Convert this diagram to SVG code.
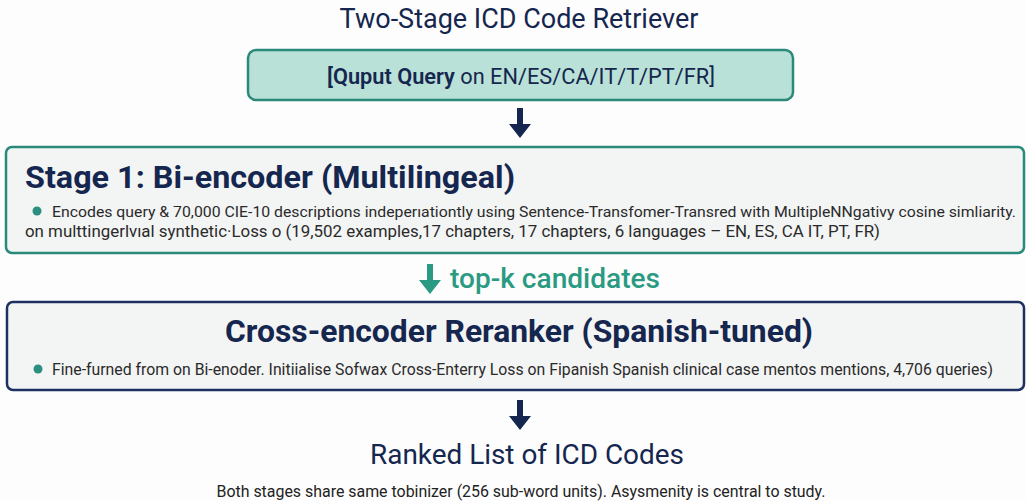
<svg xmlns="http://www.w3.org/2000/svg" width="1026" height="501" viewBox="0 0 1026 501">
<style>
text{font-family:Roboto,"Liberation Sans",sans-serif}
.navy{fill:#15264f}
.body{fill:#2a2a2a;font-size:16px}
.h{font-weight:700;font-size:32px;fill:#15264f}
.dot{fill:#2a8f7e}
</style>
<defs>
<path id="arr" d="M-3,0 H3 V16 H11 L0,30 L-11,16 H-3 Z"/>
</defs>
<rect width="1026" height="501" fill="#fdfdfd"/>
<g id="title"><text x="519" y="28" text-anchor="middle" font-size="27" class="navy">Two-Stage ICD Code Retriever</text></g>
<g id="input">
<rect x="248" y="50" width="545" height="50" rx="8" fill="#b9e1d7" stroke="#2a8a7a" stroke-width="2.5"/>
<text x="521" y="84" text-anchor="middle" font-size="21.7" class="navy" textLength="388" lengthAdjust="spacingAndGlyphs"><tspan font-weight="600">[Quput Query</tspan> on EN/ES/CA/IT/T/PT/FR]</text>
</g>
<g id="stage1">
<rect x="6" y="147" width="1018" height="106" rx="6" fill="#f3f4f4" stroke="#2a8a7a" stroke-width="2.5"/>
<text x="25" y="188" class="h" textLength="490" lengthAdjust="spacingAndGlyphs">Stage 1: Bi-encoder (Multilingeal)</text>
<circle cx="37" cy="211" r="4.5" class="dot"/>
<text x="52" y="217" class="body" font-size="15.2" style="font-size:15.2px" textLength="964" lengthAdjust="spacingAndGlyphs">Encodes query &amp; 70,000 CIE-10 descriptions indeperıationtly using Sentence-Transfomer-Transred with MultipleNNgativy cosine simliarity.</text>
<text x="25" y="237" class="body" textLength="855" lengthAdjust="spacingAndGlyphs">on multtingerlvıal synthetic·Loss o (19,502 examples,17 chapters, 17 chapters, 6 languages – EN, ES, CA IT, PT, FR)</text>
</g>
<g id="stage2">
<rect x="7" y="302" width="1017" height="88" rx="6" fill="#f3f4f4" stroke="#1d3160" stroke-width="2.5"/>
<text x="519" y="342" text-anchor="middle" class="h" textLength="588" lengthAdjust="spacingAndGlyphs">Cross-encoder Reranker (Spanish-tuned)</text>
<circle cx="38" cy="369" r="4.5" class="dot"/>
<text x="52" y="375" class="body" textLength="941" lengthAdjust="spacingAndGlyphs">Fine-furned from on Bi-enoder. Initiialise Sofwax Cross-Enterry Loss on Fipanish Spanish clinical case mentos mentions, 4,706 queries)</text>
</g>
<g id="output"><text x="527" y="464" text-anchor="middle" font-size="28" class="navy" textLength="314" lengthAdjust="spacingAndGlyphs">Ranked List of ICD Codes</text></g>
<g id="note"><text x="521" y="497" text-anchor="middle" font-size="16" fill="#222" textLength="609" lengthAdjust="spacingAndGlyphs">Both stages share same tobinizer (256 sub-word units). Asysmenity is central to study.</text></g>
<g id="connectors">
<use href="#arr" x="520" y="108" fill="#15264f"/>
<use href="#arr" x="430" y="264" fill="#2a9a82"/>
<text x="450" y="288" font-size="27" font-weight="500" fill="#2a9a82" textLength="210" lengthAdjust="spacingAndGlyphs">top-k candidates</text>
<use href="#arr" x="520" y="400" fill="#15264f"/>
</g>
</svg>
